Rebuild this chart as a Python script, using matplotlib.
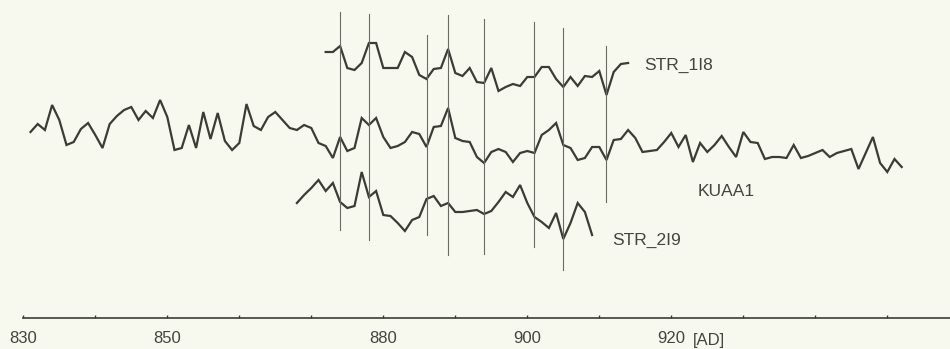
import matplotlib.pyplot as plt
import numpy as np

# ------------------------------------------
# data: ring-width indices (100 = mean)
# ------------------------------------------
kuaa1_start = 831
kuaa1 = [108, 116, 110, 135, 120, 95, 98, 111, 117, 105,
         92, 116, 124, 130, 133, 120, 129, 122, 140, 123,
         90, 92, 115, 92, 128, 101, 127, 99, 90, 97,
         136, 114, 110, 123, 128, 120, 112, 110, 115, 112,
         97, 94, 82, 103, 89, 92, 122, 115, 122, 103,
         92, 94, 98, 108, 106, 93, 113, 114, 132, 102,
         99, 98, 83, 77, 88, 91, 88, 78, 87, 89,
         87, 105, 110, 117, 95, 92, 80, 82, 93, 93,
         80, 100, 101, 110, 102, 88, 89, 90, 98, 107,
         93, 105, 78, 97, 88, 95, 104, 93, 83, 108,
         98, 97, 81, 83, 83, 82, 95, 82, 84, 87,
         90, 83, 87, 89, 91, 71, 87, 103, 77, 68,
         81, 73]

str_1i8_start = 872
str_1i8 = [118, 118, 124, 102, 100, 107, 127, 127, 102, 102,
           102, 118, 113, 95, 91, 101, 102, 121, 97, 94,
           102, 88, 87, 102, 79, 83, 86, 84, 93, 93,
           103, 103, 91, 83, 93, 84, 94, 93, 99, 75,
           98, 106, 107]

str_2i9_start = 868
str_2i9 = [102, 110, 117, 125, 114, 122, 103, 97, 99, 133,
           108, 114, 90, 89, 82, 74, 85, 88, 106, 109,
           99, 102, 93, 93, 94, 95, 91, 94, 103, 113,
           108, 120, 102, 88, 83, 77, 92, 66, 82, 102,
           93, 70]

signature_years = [874, 878, 886, 889, 894, 901, 905, 911]

tick_years = list(range(830, 951, 10))
labelled_years = [830, 850, 880, 900, 920]

# ------------------------------------------
# drawing
# ------------------------------------------
bg = '#f7f8ee'
ink = '#3c3c37'
txt = '#444440'

plt.rcParams['font.family'] = ['Liberation Sans', 'DejaVu Sans']

fig = plt.figure(figsize=(9.5, 3.49), dpi=100, facecolor=bg)
ax = fig.add_axes([0, 0, 1, 1], facecolor=bg)

# x: 7.2 px per year, y: pixel-like units (negative downwards)
x0 = 830 - 23.3 / 7.2
ax.set_xlim(x0, x0 + 950 / 7.2)
ax.set_ylim(-349, 0)

# vertical offsets of the stacked curves
series = [
    (kuaa1_start, kuaa1, 140),
    (str_1i8_start, str_1i8, 70),
    (str_2i9_start, str_2i9, 205),
]
for start, vals, base in series:
    yrs = np.arange(start, start + len(vals))
    y = -base + (np.array(vals) - 100)
    ax.plot(yrs, y, color=ink, lw=1.6, solid_joinstyle='miter')

# signature years (thin vertical marks)
sig_top = [12, 14, 35, 15, 19, 22, 28, 46]
sig_bottom = [230, 240, 235, 255, 254, 247, 270, 202]
for yr, t, b in zip(signature_years, sig_top, sig_bottom):
    ax.plot([yr, yr], [-t, -b], color='#6b6b66', lw=0.8)

# curve names
ax.text(916.3, -65, 'STR_1I8', fontsize=12.5, color=txt, va='center', ha='left')
ax.text(923.6, -191, 'KUAA1', fontsize=12.5, color=txt, va='center', ha='left')
ax.text(911.8, -240, 'STR_2I9', fontsize=12.5, color=txt, va='center', ha='left')

# time axis
for s in ['top', 'left', 'right']:
    ax.spines[s].set_visible(False)
ax.spines['bottom'].set_position(('data', -318))
ax.spines['bottom'].set_bounds(830, ax.get_xlim()[1])
ax.spines['bottom'].set_color(ink)
ax.spines['bottom'].set_linewidth(1.2)
ax.set_yticks([])
ax.set_xticks(tick_years)
ax.set_xticklabels([str(t) if t in labelled_years else '' for t in tick_years])
ax.tick_params(axis='x', direction='in', length=2.5, width=1, color=ink,
               labelsize=12, labelcolor=txt, pad=9.5)
ax.annotate('[AD]', xy=(920, -318), xytext=(15.5, -16), textcoords='offset points',
            fontsize=12, color=txt, ha='left', va='center')

plt.savefig('out.png', dpi=100, facecolor=bg)
